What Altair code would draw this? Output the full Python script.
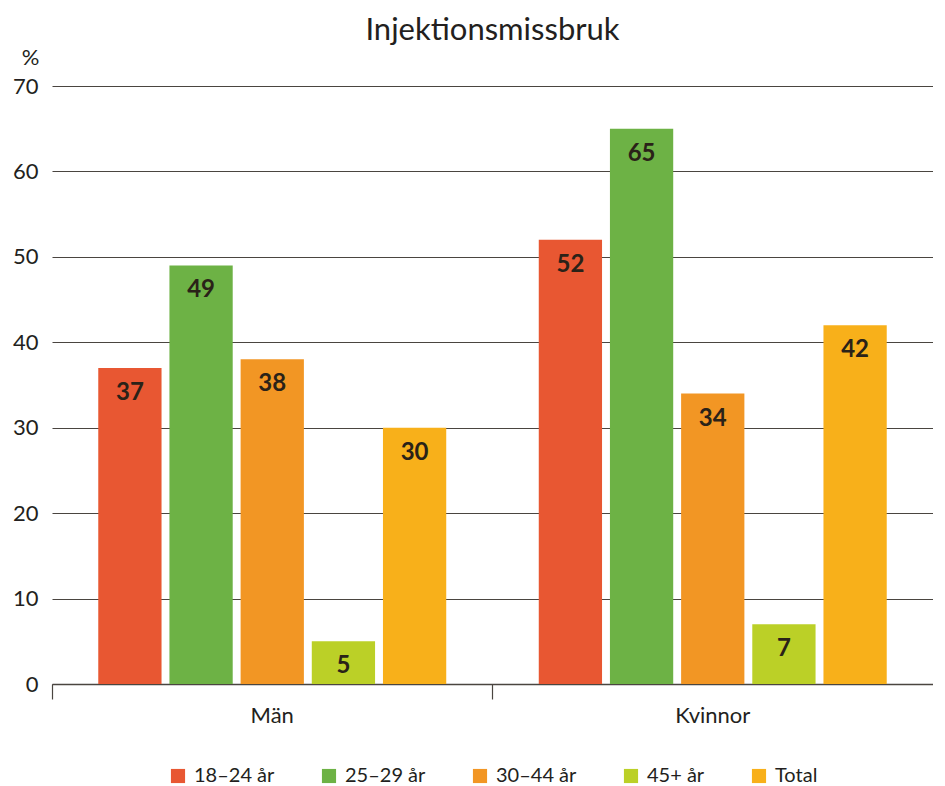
import altair as alt
import pandas as pd

groups = ["Män", "Kvinnor"]
ages = ["18–24 år", "25–29 år", "30–44 år", "45+ år", "Total"]
man_values = [37, 49, 38, 5, 30]
kvinnor_values = [52, 65, 34, 7, 42]
colors = ["#E85732", "#6DB245", "#F29624", "#BBD027", "#F8B01A"]

rows = []
for g, vals in zip(groups, [man_values, kvinnor_values]):
    for a, v in zip(ages, vals):
        rows.append({"group": g, "age": a, "value": v})
df = pd.DataFrame(rows)

FONT = "Lato"
TXT = "#231f20"

x_enc = alt.X("group:N", sort=groups, title=None,
              scale=alt.Scale(paddingInner=0, paddingOuter=0),
              axis=alt.Axis(labelAngle=0, labelFontSize=22, labelFont=FONT, labelColor=TXT,
                            labelPadding=6, tickSize=15, tickColor="#4a4540", tickWidth=1.2,
                            bandPosition=0, domainColor="#4a4540", domainWidth=1.5))
xo_enc = alt.XOffset("age:N", sort=ages,
                     scale=alt.Scale(paddingInner=0.111, paddingOuter=0.65))
y_enc = alt.Y("value:Q", scale=alt.Scale(domain=[0, 70]),
              axis=alt.Axis(values=[0, 10, 20, 30, 40, 50, 60, 70], title="%",
                            titleAngle=0, titleAlign="center", titleBaseline="middle",
                            titleX=-22, titleY=-29, titleFontSize=22, titleFont=FONT,
                            titleFontWeight="normal", titleColor=TXT,
                            labelFontSize=22, labelFont=FONT, labelColor=TXT,
                            labelPadding=14, ticks=False, domain=False,
                            gridColor="#4a4540", gridWidth=1.2))

bars = alt.Chart(df).mark_bar().encode(
    x=x_enc, xOffset=xo_enc, y=y_enc,
    color=alt.Color("age:N", sort=ages, scale=alt.Scale(domain=ages, range=colors),
                    legend=alt.Legend(title=None, orient="none", legendX=116, legendY=680,
                                      direction="horizontal",
                                      columns=5, symbolType="square", symbolSize=200,
                                      symbolStrokeWidth=0, labelFontSize=20, labelFont=FONT,
                                      labelColor=TXT, columnPadding=44,
                                      labelOffset=6)),
)

labels = alt.Chart(df).mark_text(dy=25, fontSize=24, fontWeight="bold", font=FONT,
                                 color="#2a2218", baseline="middle").encode(
    x=alt.X("group:N", sort=groups), xOffset=alt.XOffset("age:N", sort=ages), y="value:Q",
    text="value:Q")

chart = alt.layer(bars, labels).properties(
    width=881, height=598,
    padding={"left": 4, "right": 0, "top": 7, "bottom": 0},
    title=alt.TitleParams("Injektionsmissbruk", fontSize=31, font=FONT, fontWeight="normal",
                          color=TXT, anchor="middle", offset=-1),
).configure_view(stroke=None)

chart.save("out.html", embed_options={"renderer": "svg", "actions": False})
